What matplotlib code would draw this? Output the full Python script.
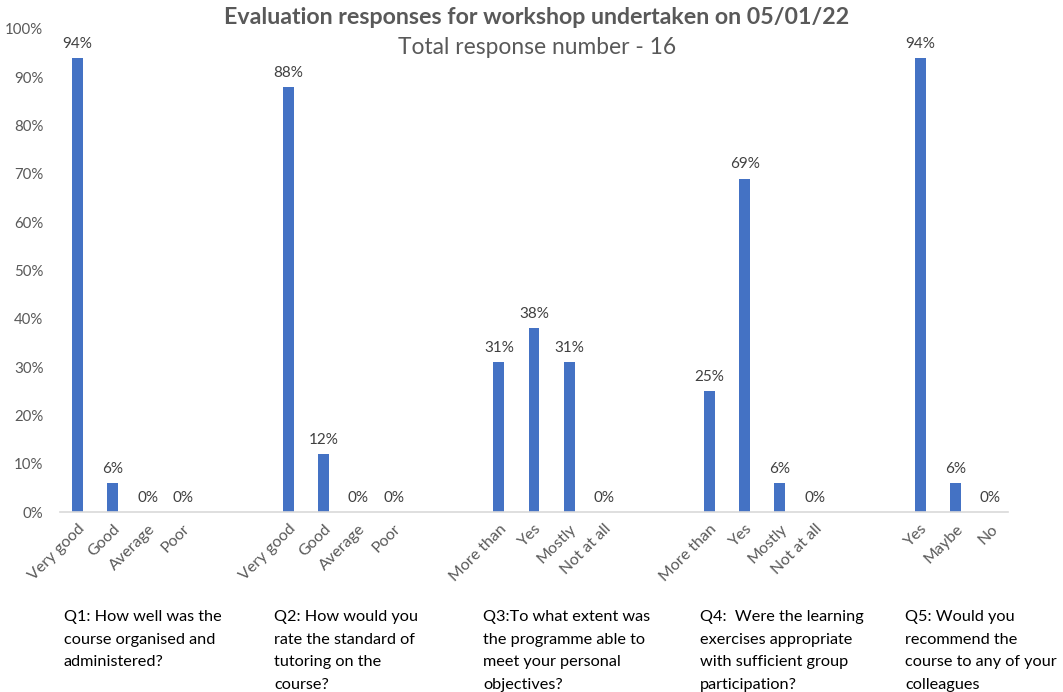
import matplotlib.pyplot as plt
import numpy as np

plt.rcParams['font.family'] = ['Lato', 'DejaVu Sans']

# one slot per answer, blank slots between questions
labels = ["Very good", "Good", "Average", "Poor", "", "",
          "Very good", "Good", "Average", "Poor", "", "",
          "More than", "Yes", "Mostly", "Not at all", "", "",
          "More than", "Yes", "Mostly", "Not at all", "", "",
          "Yes", "Maybe", "No"]
values = [94, 6, 0, 0, None, None,
          88, 12, 0, 0, None, None,
          31, 38, 31, 0, None, None,
          25, 69, 6, 0, None, None,
          94, 6, 0]

questions = ["Q1: How well was the\ncourse organised and\nadministered?",
             "Q2: How would you\nrate the standard of\ntutoring on the\ncourse?",
             "Q3:To what extent was\nthe programme able to\nmeet your personal\nobjectives?",
             "Q4:  Were the learning\nexercises appropriate\nwith sufficient group\nparticipation?",
             "Q5: Would you\nrecommend the\ncourse to any of your\ncolleagues"]
question_x = [64, 274, 483, 700, 905]

fig = plt.figure(figsize=(10.63, 6.92), dpi=100)
ax = fig.add_axes([60/1063, 1 - 512/692, 948/1063, 483/692])

x = np.arange(len(labels))
for i, v in enumerate(values):
    if v is None:
        continue
    ax.bar(x[i], v, width=0.31, color="#4472C4")
    ax.text(x[i], v + 1.5, "%d%%" % v, ha="center", va="bottom",
            fontsize=11, color="#404040")

ax.set_xlim(-0.5, len(labels) - 0.5)
ax.set_ylim(0, 100)
ax.set_yticks(range(0, 101, 10))
ax.set_yticklabels(["%d%%" % t for t in range(0, 101, 10)])
ax.set_xticks(x)
ax.set_xticklabels(labels, rotation=45, ha="right", rotation_mode="anchor")
ax.tick_params(axis="both", length=0, colors="#595959")
ax.tick_params(axis="x", pad=7, labelsize=11.5)
ax.tick_params(axis="y", pad=12, labelsize=10.8)

for s in ["top", "right", "left"]:
    ax.spines[s].set_visible(False)
ax.spines["bottom"].set_color("#D9D9D9")
ax.spines["bottom"].set_linewidth(1.2)

fig.text(537/1063, 1 - 18/692, "Evaluation responses for workshop undertaken on 05/01/22",
         ha="center", va="center", fontsize=16.7, fontweight="bold", color="#595959")
fig.text(537/1063, 1 - 47/692, "Total response number - 16",
         ha="center", va="center", fontsize=16.4, color="#595959")

for qx, q in zip(question_x, questions):
    fig.text(qx/1063, 1 - 610/692, q, ha="left", va="top", fontsize=11.7,
             color="black", linespacing=1.78)

fig.savefig("out.png", dpi=100)
